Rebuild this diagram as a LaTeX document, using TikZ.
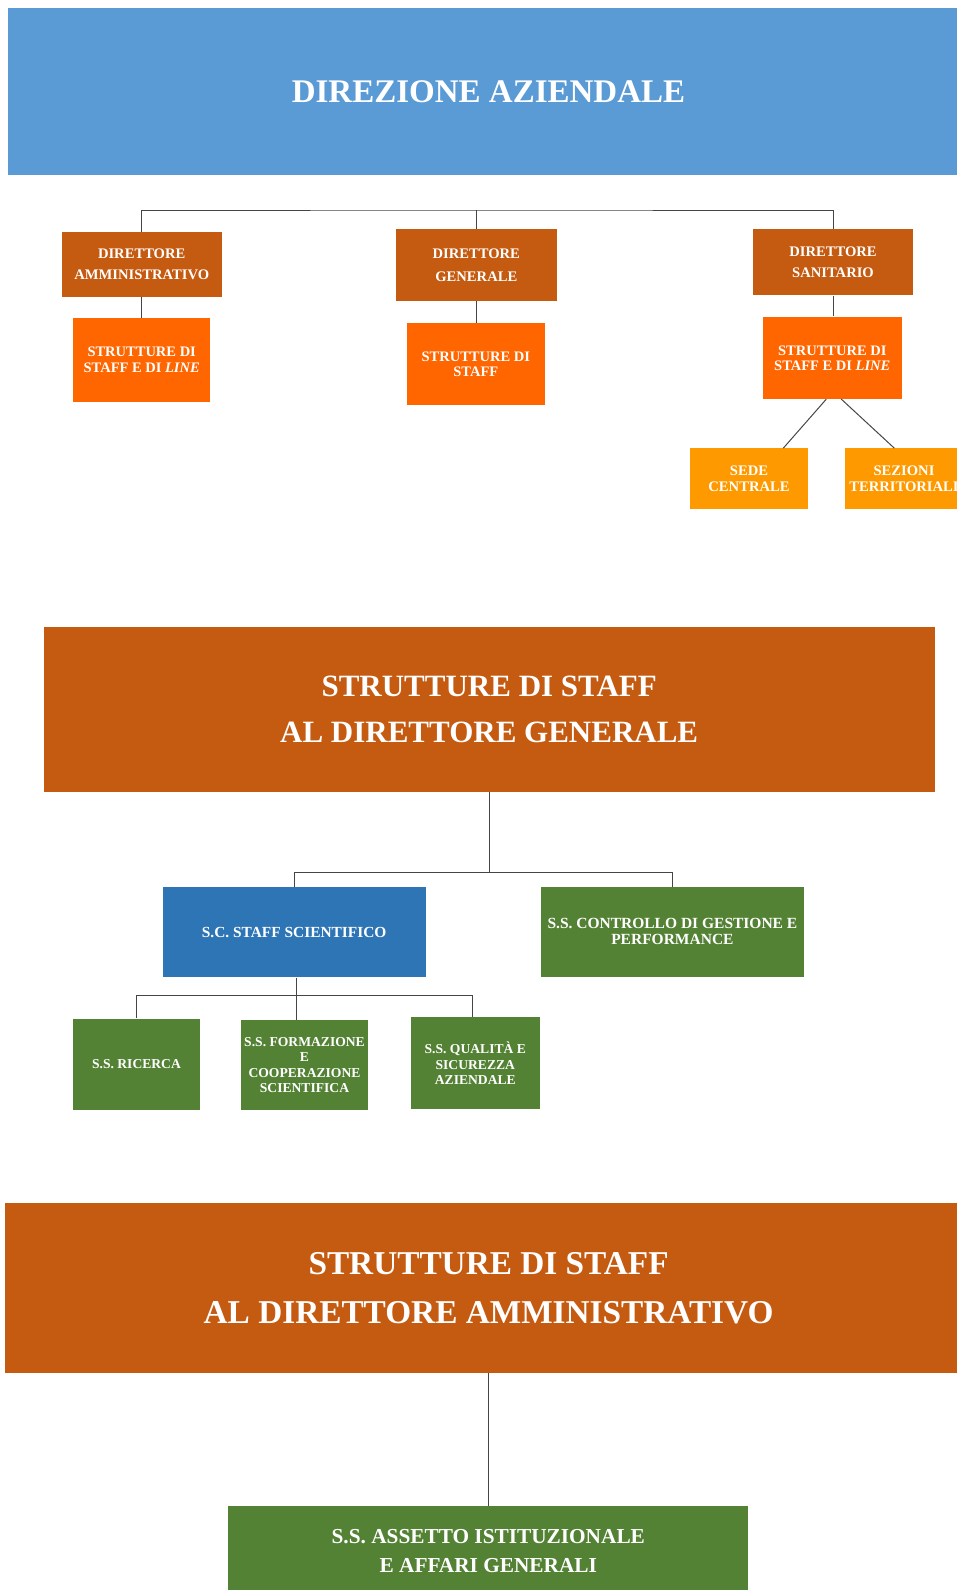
\documentclass[tikz,border=0pt]{standalone}
\usepackage{fontspec}
\setmainfont{Liberation Serif}
\definecolor{bannerblue}{HTML}{5B9BD5}
\definecolor{rustorange}{HTML}{C55A11}
\definecolor{strorange}{HTML}{FF6600}
\definecolor{lightorange}{HTML}{FF9900}
\definecolor{scblue}{HTML}{2E75B6}
\definecolor{okgreen}{HTML}{548235}
\definecolor{linegray}{HTML}{454545}
\begin{document}
\begin{tikzpicture}[x=1pt,y=-1pt,
  box/.style={inner sep=0pt, align=center, text=white, anchor=center},
  conn/.style={draw=linegray, line width=1pt},
]
\useasboundingbox (0,0) rectangle (957,1590);

% Banner 1
\node[box, fill=bannerblue, minimum width=961pt, minimum height=167.3pt,
  font=\bfseries\fontsize{33}{40}\selectfont] (dirAz) at (488.5,91.75) {DIREZIONE AZIENDALE};

% Directors
\node[box, fill=rustorange, minimum width=160pt, minimum height=65pt,
  font=\bfseries\fontsize{14.6}{21}\selectfont] (dirAmm) at (141.7,264.2) {DIRETTORE\\AMMINISTRATIVO};
\node[box, fill=rustorange, minimum width=160.7pt, minimum height=71.7pt,
  font=\bfseries\fontsize{14.6}{23}\selectfont] (dirGen) at (476.3,265.2) {DIRETTORE\\GENERALE};
\node[box, fill=rustorange, minimum width=160.6pt, minimum height=66pt,
  font=\bfseries\fontsize{14.6}{21}\selectfont] (dirSan) at (833,262.3) {DIRETTORE\\SANITARIO};

% Strutture
\node[box, fill=strorange, minimum width=137.3pt, minimum height=83.4pt,
  font=\bfseries\fontsize{14.5}{16}\selectfont] (strAmm) at (141.7,360) {STRUTTURE DI\\STAFF E DI \textit{LINE}};
\node[box, fill=strorange, minimum width=138.3pt, minimum height=81.7pt,
  font=\bfseries\fontsize{14.5}{15}\selectfont] (strGen) at (475.8,364.2) {STRUTTURE DI\\STAFF};
\node[box, fill=strorange, minimum width=138.7pt, minimum height=82.3pt,
  font=\bfseries\fontsize{14.5}{15}\selectfont] (strSan) at (832.3,357.8) {STRUTTURE DI\\STAFF E DI \textit{LINE}};

\node[box, fill=lightorange, minimum width=118pt, minimum height=60.7pt,
  font=\bfseries\fontsize{14.6}{16}\selectfont] (sede) at (749,478.7) {SEDE\\CENTRALE};
\node[box, fill=lightorange, minimum width=117.4pt, minimum height=60.7pt,
  font=\bfseries\fontsize{14.6}{16}\selectfont] (sezioni) at (904,478.7) {SEZIONI\\TERRITORIALI};

% connectors top
\coordinate (bar1) at (476,210);
\draw[conn] (dirAmm.north) |- (bar1) -| (dirSan.north);
\draw[conn] (dirGen.north) -- (dirGen.north |- bar1);
\draw[conn] (dirAmm.south) -- (strAmm.north);
\draw[conn] (dirGen.south) -- (dirGen.south |- strGen.north);
\draw[conn] (dirSan.south) -- (dirSan.south |- strSan.north);
\draw[conn] ([xshift=-6pt]strSan.south) -- ([xshift=34.3pt]sede.north);
\draw[conn] ([xshift=9pt]strSan.south) -- ([xshift=-9.7pt]sezioni.north);

% Banner 2
\node[box, fill=rustorange, minimum width=891pt, minimum height=165.3pt,
  font=\bfseries\fontsize{31}{46}\selectfont] (staffDG) at (489.2,709.2) {STRUTTURE DI STAFF\\AL DIRETTORE GENERALE};

\node[box, fill=scblue, minimum width=263pt, minimum height=90.6pt,
  font=\bfseries\fontsize{15.4}{16}\selectfont] (scStaff) at (294.2,932) {S.C. STAFF SCIENTIFICO};
\node[box, fill=okgreen, minimum width=263.3pt, minimum height=90pt,
  font=\bfseries\fontsize{15.5}{16}\selectfont] (controllo) at (672.4,931.7) {S.S. CONTROLLO DI GESTIONE E\\PERFORMANCE};

\node[box, fill=okgreen, minimum width=127.6pt, minimum height=91.3pt,
  font=\bfseries\fontsize{13.6}{15.5}\selectfont] (ricerca) at (136.5,1064.3) {S.S. RICERCA};
\node[box, fill=okgreen, minimum width=127.6pt, minimum height=90pt,
  font=\bfseries\fontsize{13.6}{15.4}\selectfont] (formazione) at (304.5,1065) {S.S. FORMAZIONE\\E\\COOPERAZIONE\\SCIENTIFICA};
\node[box, fill=okgreen, minimum width=129.3pt, minimum height=91.7pt,
  font=\bfseries\fontsize{13.6}{15.8}\selectfont] (qualita) at (475.3,1063.2) {S.S. QUALITÀ E\\SICUREZZA\\AZIENDALE};

\coordinate (bar2) at (489.5,872.5);
\draw[conn] (staffDG.south) -- (staffDG.south |- bar2);
\draw[conn] (scStaff.north) |- (bar2) -| (controllo.north);
\coordinate (bar3) at (296.7,995.5);
\draw[conn] ([xshift=2.5pt]scStaff.south) -- ([xshift=2.5pt]scStaff.south |- formazione.north);
\draw[conn] ([xshift=-0.5pt]ricerca.north) |- (bar3) -| ([xshift=-2.6pt]qualita.north);

% Banner 3
\node[box, fill=rustorange, minimum width=967pt, minimum height=169.3pt,
  font=\bfseries\fontsize{33.3}{49}\selectfont] (staffDA) at (488.6,1288) {STRUTTURE DI STAFF\\AL DIRETTORE AMMINISTRATIVO};

\node[box, fill=okgreen, minimum width=520pt, minimum height=90.6pt,
  font=\bfseries\fontsize{21.3}{29.3}\selectfont] (assetto) at (488.3,1551) {S.S. ASSETTO ISTITUZIONALE\\E AFFARI GENERALI};

\draw[conn] (staffDA.south) -- (staffDA.south |- assetto.north);
\end{tikzpicture}
\end{document}
